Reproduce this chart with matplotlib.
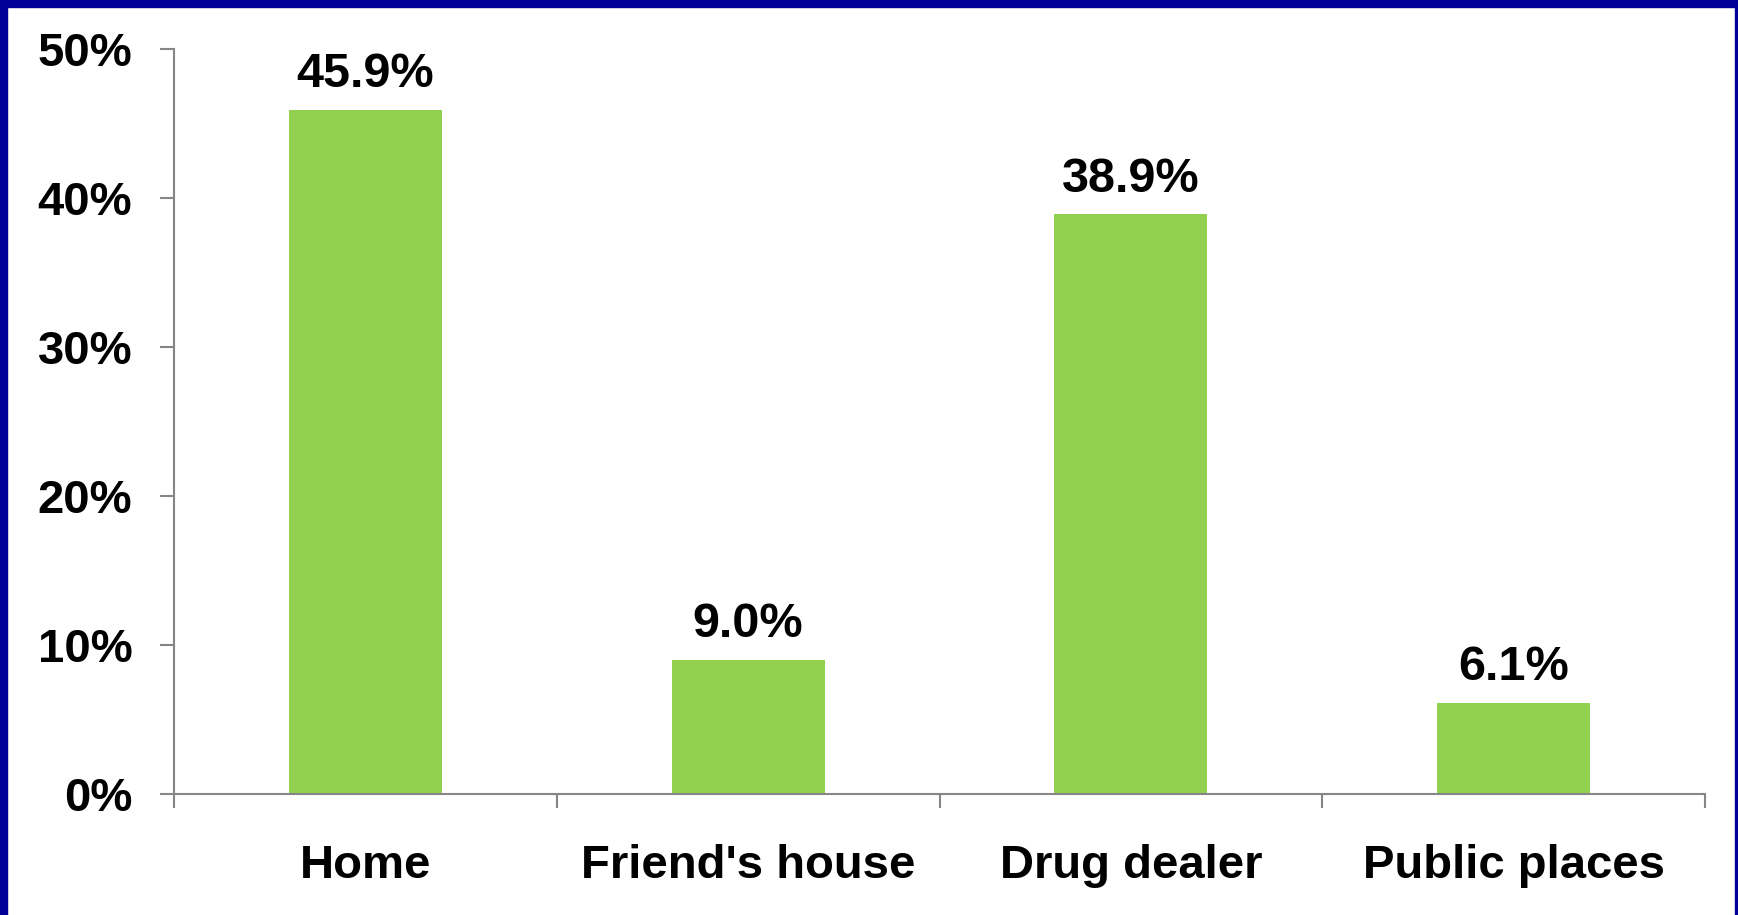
import numpy as np
import matplotlib as mpl
import matplotlib.pyplot as plt
from matplotlib.patches import Rectangle
from matplotlib.ticker import PercentFormatter

categories = ["Home", "Friend's house", "Drug dealer", "Public places"]
values = [45.9, 9.0, 38.9, 6.1]
yticks = [0, 10, 20, 30, 40, 50]

plt.rcParams['font.family'] = ['Liberation Sans', 'DejaVu Sans']
plt.rcParams['font.weight'] = 'bold'

W, H = 1738, 915
fig = plt.figure(figsize=(W/100, H/100), dpi=100)
ax = fig.add_axes([174/W, 1-793.6/H, (1705-174)/W, (793.6-48.8)/H])

grey = '#868686'
x = np.arange(len(categories))
ax.bar(x, values, width=0.4, color='#92D050', zorder=2)
for xi, v in zip(x, values):
    ax.annotate('{:.1f}%'.format(v), (xi, v), xytext=(0, 9), textcoords='offset points',
                ha='center', va='bottom', fontsize=35, fontweight='bold')

ax.set_xlim(-0.5, len(categories)-0.5)
ax.set_ylim(0, 50)
ax.set_yticks(yticks)
ax.yaxis.set_major_formatter(PercentFormatter(decimals=0))
ax.set_xticks(x)
ax.set_xticklabels(categories)
ax.set_xticks(np.arange(len(categories)+1)-0.5, minor=True)

for s in ['top', 'right']:
    ax.spines[s].set_visible(False)
for s in ['left', 'bottom']:
    ax.spines[s].set_color(grey)
    ax.spines[s].set_linewidth(1.5)

ax.tick_params(axis='y', length=10, width=1.5, color=grey, labelsize=34, pad=20)
ax.tick_params(axis='x', which='major', length=0, labelsize=34, pad=36)
ax.tick_params(axis='x', which='minor', length=10, width=1.5, color=grey)

# blue frame around the slide
blue = '#000099'
fig.patches.append(Rectangle((0, 1-7/H), 1, 7/H, transform=fig.transFigure, color=blue, zorder=0))
fig.patches.append(Rectangle((0, 0), 7/W, 1, transform=fig.transFigure, color=blue, zorder=0))
fig.patches.append(Rectangle((1-3/W, 0), 3/W, 1, transform=fig.transFigure, color=blue, zorder=0))

fig.savefig('out.png', dpi=100)
